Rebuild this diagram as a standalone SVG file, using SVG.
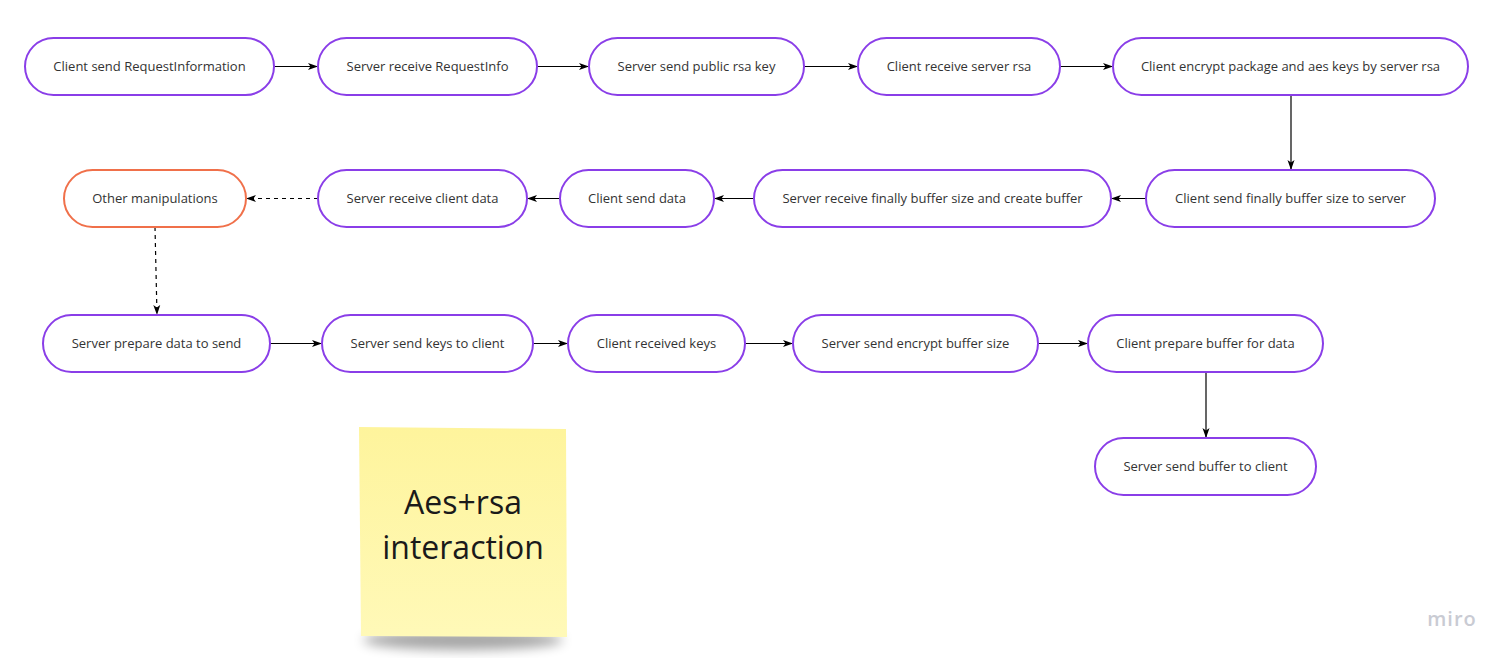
<svg xmlns="http://www.w3.org/2000/svg" width="1511" height="661" viewBox="0 0 1511 661">
<defs>
<marker id="ah" viewBox="0 0 10 10" refX="10" refY="5" markerWidth="10" markerHeight="10" markerUnits="userSpaceOnUse" orient="auto">
<path d="M0,1.5 L10,5 L0,8.5 L2.5,5 Z" fill="#000"/>
</marker>
<filter id="sh" x="-20%" y="-20%" width="140%" height="160%">
<feGaussianBlur stdDeviation="6"/>
</filter>
<linearGradient id="note" x1="0" y1="0" x2="0" y2="1">
<stop offset="0" stop-color="#fef49c"/>
<stop offset="1" stop-color="#fff9b8"/>
</linearGradient>
</defs>
<style>
.n rect{fill:#fff;stroke:#8a3ee8;stroke-width:2}
.n.o rect{stroke:#f0704a}
.n text{font-family:"Open Sans","Noto Sans",sans-serif;font-size:13px;fill:#333;text-anchor:middle}
.c line{stroke:#000;stroke-width:1.2;marker-end:url(#ah)}
.c line.d{stroke-dasharray:4 4}
.sticky text{font-family:"Open Sans","Noto Sans",sans-serif;font-size:32px;fill:#1a1a1a;text-anchor:middle}
</style>
<rect width="1511" height="661" fill="#fff"/>
<g id="sticky" class="sticky">
<ellipse cx="463" cy="640" rx="100" ry="10" fill="#000" opacity="0.35" filter="url(#sh)"/>
<path d="M359,427 L566,429 L567,637 L361,636 Z" fill="url(#note)"/>
<text x="463" y="514">Aes+rsa</text>
<text x="463" y="559">interaction</text>
</g>
<g id="connectors" class="c">
<line x1="274" y1="66.5" x2="318" y2="66.5"/>
<line x1="537" y1="66.5" x2="589" y2="66.5"/>
<line x1="804" y1="66.5" x2="858" y2="66.5"/>
<line x1="1060" y1="66.5" x2="1113" y2="66.5"/>
<line x1="1291" y1="95" x2="1291" y2="170"/>
<line x1="1146" y1="198.5" x2="1111" y2="198.5"/>
<line x1="754" y1="198.5" x2="714" y2="198.5"/>
<line x1="560" y1="198.5" x2="527" y2="198.5"/>
<line class="d" x1="318" y1="198.5" x2="246" y2="198.5"/>
<line class="d" x1="155" y1="227" x2="157" y2="315"/>
<line x1="270" y1="343.5" x2="322" y2="343.5"/>
<line x1="533" y1="343.5" x2="568" y2="343.5"/>
<line x1="745" y1="343.5" x2="793" y2="343.5"/>
<line x1="1038" y1="343.5" x2="1088" y2="343.5"/>
<line x1="1206" y1="372" x2="1206" y2="438"/>
</g>
<g id="n1" class="n"><rect x="25" y="38" width="249" height="57" rx="28.5"/><text x="149.5" y="71">Client send RequestInformation</text></g>
<g id="n2" class="n"><rect x="318" y="38" width="219" height="57" rx="28.5"/><text x="427.5" y="71">Server receive RequestInfo</text></g>
<g id="n3" class="n"><rect x="589" y="38" width="215" height="57" rx="28.5"/><text x="696.5" y="71">Server send public rsa key</text></g>
<g id="n4" class="n"><rect x="858" y="38" width="202" height="57" rx="28.5"/><text x="959" y="71">Client receive server rsa</text></g>
<g id="n5" class="n"><rect x="1113" y="38" width="355" height="57" rx="28.5"/><text x="1290.5" y="71">Client encrypt package and aes keys by server rsa</text></g>
<g id="n6" class="n"><rect x="1146" y="170" width="289" height="57" rx="28.5"/><text x="1290.5" y="203">Client send finally buffer size to server</text></g>
<g id="n7" class="n"><rect x="754" y="170" width="357" height="57" rx="28.5"/><text x="932.5" y="203">Server receive finally buffer size and create buffer</text></g>
<g id="n8" class="n"><rect x="560" y="170" width="154" height="57" rx="28.5"/><text x="637" y="203">Client send data</text></g>
<g id="n9" class="n"><rect x="318" y="170" width="209" height="57" rx="28.5"/><text x="422.5" y="203">Server receive client data</text></g>
<g id="n10" class="n o"><rect x="64" y="170" width="182" height="57" rx="28.5"/><text x="155" y="203">Other manipulations</text></g>
<g id="n11" class="n"><rect x="43" y="315" width="227" height="57" rx="28.5"/><text x="156.5" y="348">Server prepare data to send</text></g>
<g id="n12" class="n"><rect x="322" y="315" width="211" height="57" rx="28.5"/><text x="427.5" y="348">Server send keys to client</text></g>
<g id="n13" class="n"><rect x="568" y="315" width="177" height="57" rx="28.5"/><text x="656.5" y="348">Client received keys</text></g>
<g id="n14" class="n"><rect x="793" y="315" width="245" height="57" rx="28.5"/><text x="915.5" y="348">Server send encrypt buffer size</text></g>
<g id="n15" class="n"><rect x="1088" y="315" width="235" height="57" rx="28.5"/><text x="1205.5" y="348">Client prepare buffer for data</text></g>
<g id="n16" class="n"><rect x="1095" y="438" width="221" height="57" rx="28.5"/><text x="1205.5" y="471">Server send buffer to client</text></g>
<text x="1452" y="626" font-family="'Open Sans','Noto Sans',sans-serif" font-size="20" font-weight="600" fill="#c9cbd3" text-anchor="middle" letter-spacing="1">miro</text>
</svg>
